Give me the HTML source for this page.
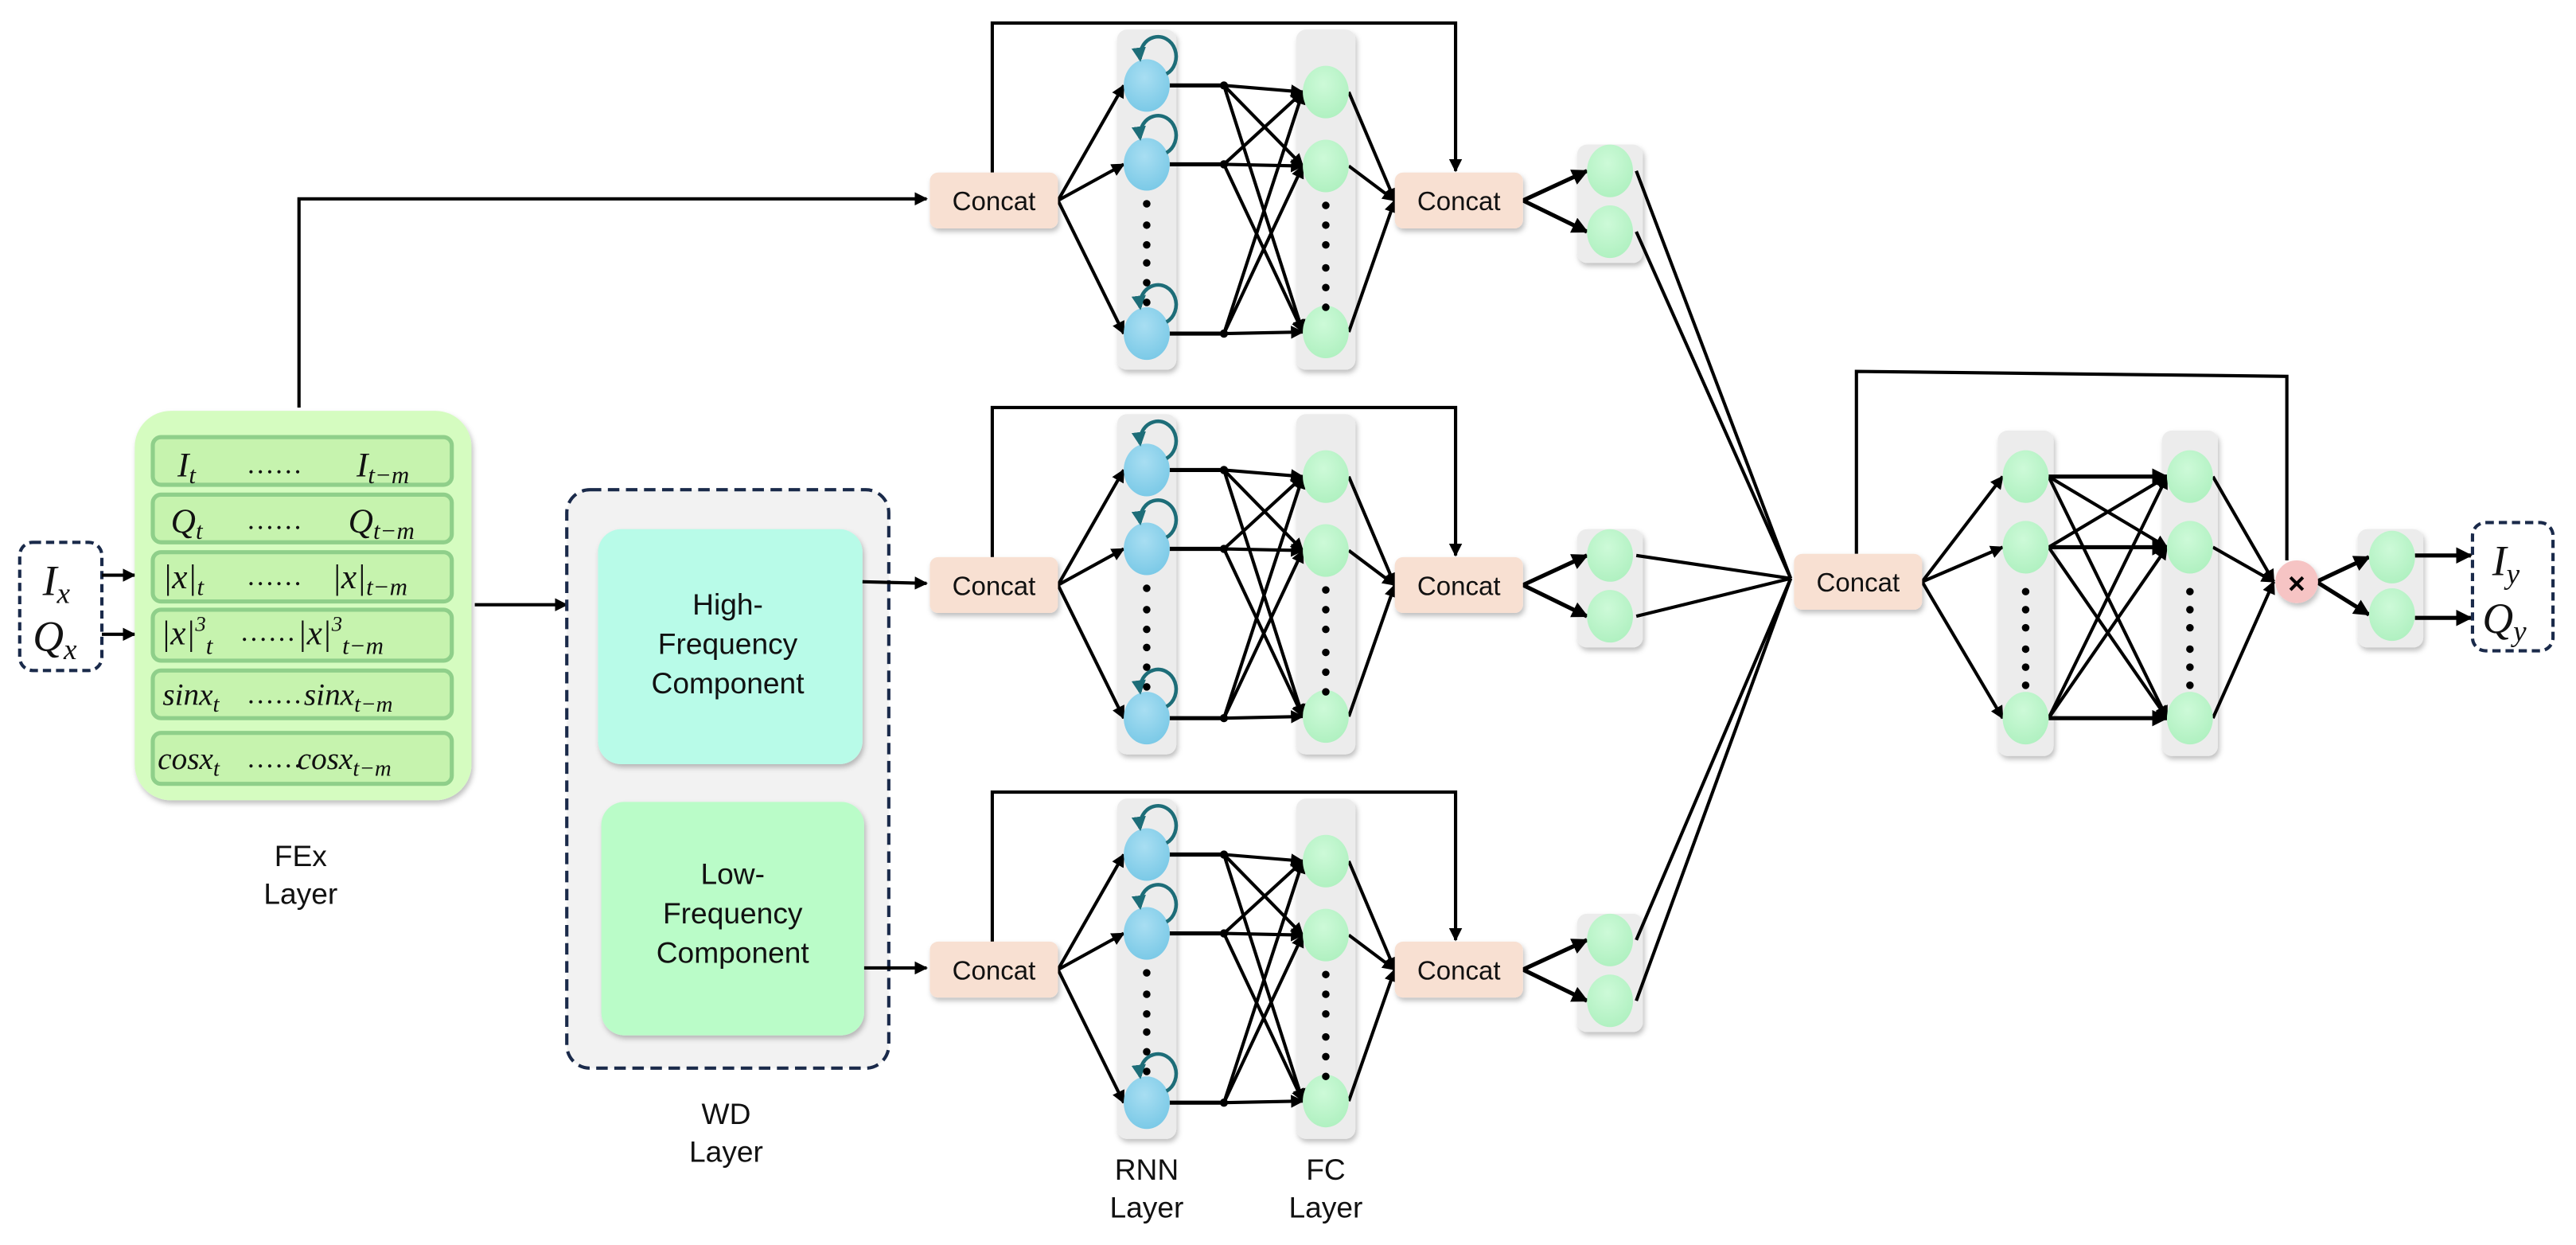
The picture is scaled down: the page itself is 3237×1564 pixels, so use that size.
<!DOCTYPE html>
<html><head><meta charset="utf-8"><style>
html,body{margin:0;padding:0;background:#fff;}
svg{display:block;}
.lbl{font-family:"Liberation Sans Narrow","Liberation Sans",sans-serif;fill:#111;}
.m{font-family:"Liberation Serif",serif;font-style:italic;fill:#111;}
</style></head><body>
<svg id="s" width="3237" height="1564" viewBox="0 0 1568 757.6" xmlns="http://www.w3.org/2000/svg">
<defs>
<marker id="a" viewBox="0 0 10 10" refX="9" refY="5" markerWidth="4" markerHeight="4" orient="auto"><path d="M0,0 L10,5 L0,10 z" fill="#000"/></marker>
<marker id="t" viewBox="0 0 10 10" refX="8" refY="5" markerWidth="4" markerHeight="4" orient="auto"><path d="M0,0 L10,5 L0,10 z" fill="#1d6d78"/></marker>
<radialGradient id="gb" cx="45%" cy="35%" r="70%"><stop offset="0" stop-color="#a8def2"/><stop offset="1" stop-color="#78c8e6"/></radialGradient>
<radialGradient id="gg" cx="45%" cy="35%" r="70%"><stop offset="0" stop-color="#cdfad8"/><stop offset="1" stop-color="#aef0bf"/></radialGradient>
<filter id="sh" x="-20%" y="-20%" width="140%" height="140%"><feDropShadow dx="1" dy="2" stdDeviation="1.5" flood-color="#000" flood-opacity="0.25"/></filter>
</defs>

<!-- input box -->
<rect x="12" y="330" width="50" height="78" rx="8" fill="#fff" stroke="#1a2a4a" stroke-width="2" stroke-dasharray="5,3"/>
<text class="m" x="26" y="362" font-size="26">I<tspan font-size="18" dy="5">x</tspan></text>
<text class="m" x="20" y="396" font-size="26">Q<tspan font-size="18" dy="5">x</tspan></text>
<line x1="62" y1="350" x2="82" y2="350" stroke="#000" stroke-width="2" marker-end="url(#a)"/>
<line x1="62" y1="386" x2="82" y2="386" stroke="#000" stroke-width="2" marker-end="url(#a)"/>

<!-- FEx -->
<rect x="82" y="250" width="205" height="237" rx="22" fill="#d5fcc0" filter="url(#sh)"/>
<g fill="#c6f3ae" stroke="#8fcf8a" stroke-width="2.5">
<rect x="93" y="266" width="182" height="29" rx="5"/>
<rect x="93" y="301" width="182" height="29" rx="5"/>
<rect x="93" y="336" width="182" height="30" rx="5"/>
<rect x="93" y="371" width="182" height="31" rx="5"/>
<rect x="93" y="408" width="182" height="29" rx="5"/>
<rect x="93" y="446" width="182" height="31" rx="5"/>
</g>
<g class="m" font-size="21">
<text x="108" y="290">I<tspan font-size="15" dy="4">t</tspan></text>
<text x="150" y="288" font-style="normal" font-size="17">……</text>
<text x="217" y="290">I<tspan font-size="15" dy="4">t−m</tspan></text>
<text x="104" y="324">Q<tspan font-size="15" dy="4">t</tspan></text>
<text x="150" y="322" font-style="normal" font-size="17">……</text>
<text x="212" y="324">Q<tspan font-size="15" dy="4">t−m</tspan></text>
<text x="99" y="358">|x|<tspan font-size="15" dy="4">t</tspan></text>
<text x="150" y="356" font-style="normal" font-size="17">……</text>
<text x="202" y="358">|x|<tspan font-size="15" dy="4">t−m</tspan></text>
<text x="98" y="392">|x|<tspan font-size="13" dy="-8">3</tspan><tspan font-size="15" dy="14">t</tspan></text>
<text x="146" y="390" font-style="normal" font-size="17">……</text>
<text x="181" y="392">|x|<tspan font-size="13" dy="-8">3</tspan><tspan font-size="15" dy="14">t−m</tspan></text>
<text x="99" y="429" font-size="19">sinx<tspan font-size="14" dy="4">t</tspan></text>
<text x="150" y="428" font-style="normal" font-size="17">……</text>
<text x="185" y="429" font-size="19">sinx<tspan font-size="14" dy="4">t−m</tspan></text>
<text x="96" y="468" font-size="19">cosx<tspan font-size="14" dy="4">t</tspan></text>
<text x="150" y="467" font-style="normal" font-size="17">……</text>
<text x="181" y="468" font-size="19">cosx<tspan font-size="14" dy="4">t−m</tspan></text>
</g>
<text class="lbl" x="183" y="527" font-size="18" text-anchor="middle">FEx</text>
<text class="lbl" x="183" y="550" font-size="18" text-anchor="middle">Layer</text>

<!-- FEx to top concat -->
<polyline points="182,248 182,121 564,121" fill="none" stroke="#000" stroke-width="2" marker-end="url(#a)"/>
<line x1="289" y1="368" x2="345" y2="368" stroke="#000" stroke-width="2" marker-end="url(#a)"/>

<!-- WD -->
<rect x="345" y="298" width="196" height="352" rx="14" fill="#f2f2f2" stroke="#1a2a4a" stroke-width="2" stroke-dasharray="7,4"/>
<rect x="364" y="322" width="161" height="143" rx="14" fill="#b8fbe8" filter="url(#sh)"/>
<rect x="366" y="488" width="160" height="142" rx="14" fill="#bafcc8" filter="url(#sh)"/>
<g class="lbl" font-size="18" text-anchor="middle">
<text x="443" y="374">High-</text><text x="443" y="398">Frequency</text><text x="443" y="422">Component</text>
<text x="446" y="538">Low-</text><text x="446" y="562">Frequency</text><text x="446" y="586">Component</text>
<text x="442" y="684">WD</text><text x="442" y="707">Layer</text>
<text x="698" y="718">RNN</text><text x="698" y="741">Layer</text>
<text x="807" y="718">FC</text><text x="807" y="741">Layer</text>
</g>
<line x1="525" y1="354" x2="564" y2="355" stroke="#000" stroke-width="2" marker-end="url(#a)"/>
<line x1="526" y1="589" x2="564" y2="589" stroke="#000" stroke-width="2" marker-end="url(#a)"/>

<g id="net"></g>

<!-- concat boxes -->
<g filter="url(#sh)" fill="#f8e0d2">
<rect x="566" y="105" width="78" height="34" rx="5"/><rect x="849" y="105" width="78" height="34" rx="5"/>
<rect x="566" y="339" width="78" height="34" rx="5"/><rect x="849" y="339" width="78" height="34" rx="5"/>
<rect x="566" y="573" width="78" height="34" rx="5"/><rect x="849" y="573" width="78" height="34" rx="5"/>
<rect x="1092" y="337" width="78" height="34" rx="5"/>
</g>
<g class="lbl" font-size="16" text-anchor="middle">
<text x="605" y="128">Concat</text><text x="888" y="128">Concat</text>
<text x="605" y="362">Concat</text><text x="888" y="362">Concat</text>
<text x="605" y="596">Concat</text><text x="888" y="596">Concat</text>
<text x="1131" y="360">Concat</text>
</g>

<!-- output -->
<circle cx="1398" cy="354" r="13" fill="#f6c4c4" filter="url(#sh)"/>
<text x="1398" y="361" font-family="Liberation Sans,sans-serif" font-weight="bold" font-size="18" text-anchor="middle">×</text>
<rect x="1505" y="318" width="49" height="78" rx="8" fill="#fff" stroke="#1a2a4a" stroke-width="2" stroke-dasharray="5,3"/>
<text class="m" x="1517" y="350" font-size="26">I<tspan font-size="18" dy="5">y</tspan></text>
<text class="m" x="1511" y="385" font-size="26">Q<tspan font-size="18" dy="5">y</tspan></text>
</svg>
<script>
var NS="http://www.w3.org/2000/svg",g=document.getElementById("net");
function el(n,a){var e=document.createElementNS(NS,n);for(var k in a)e.setAttribute(k,a[k]);g.appendChild(e);return e;}
function ln(x1,y1,x2,y2,arr,w){el("line",{x1:x1,y1:y1,x2:x2,y2:y2,stroke:"#000","stroke-width":w||2,"marker-end":arr?"url(#a)":""});}
function bar(x,y,w,h){el("rect",{x:x,y:y,width:w,height:h,rx:6,fill:"#ececec",filter:"url(#sh)"});}
function node(x,y,f){el("ellipse",{cx:x,cy:y,rx:14,ry:16,fill:f});}
function dots(x,ys){ys.forEach(function(y){el("circle",{cx:x,cy:y,r:2.3,fill:"#000"});});}
[0,234,468].forEach(function(d){
  bar(680,18+d,36,207);bar(789,18+d,36,207);bar(960,88+d,40,72);
  var R=[52+d,100+d,203+d],F=[56+d,101+d,202+d],S=[104+d,141+d];
  var pts="604,"+(105+d)+" 604,"+(14+d)+" 886,"+(14+d)+" 886,"+(104+d);
  el("polyline",{points:pts,fill:"none",stroke:"#000","stroke-width":2,"marker-end":"url(#a)"});
  R.forEach(function(y){ln(644,122+d,684,y,1);});
  R.forEach(function(y){ln(712,y,745,y,0,2.5);el("circle",{cx:745,cy:y,r:2.5,fill:"#000"});F.forEach(function(f){ln(745,y,793,f,1);});});
  F.forEach(function(f){ln(821,f,849,122+d,1);});
  S.forEach(function(s){ln(927,122+d,966,s,1,2.5);ln(996,s,1090,352,0);});
  R.forEach(function(y){node(698,y,"url(#gb)");
    el("path",{d:"M710,"+(y-7)+" A11,12 0 1 0 694,"+(y-16),fill:"none",stroke:"#1d6d78","stroke-width":2.2,"marker-end":"url(#t)"});});
  F.forEach(function(f){node(807,f,"url(#gg)");});
  S.forEach(function(s){node(980,s,"url(#gg)");});
  dots(698,[124+d,137+d,149+d,160+d,172+d,184+d]);
  dots(807,[125+d,137+d,149+d,163+d,175+d,187+d]);
});
bar(1216,262,34,198);bar(1316,262,34,198);bar(1435,322,40,72);
el("polyline",{points:"1130,337 1130,226 1392,229 1392,341",fill:"none",stroke:"#000","stroke-width":2});
var L1=[290,333,437],L2=[290,333,437];
L1.forEach(function(y){ln(1170,354,1219,y,1);});
L1.forEach(function(y){L2.forEach(function(z){ln(1247,y,1319,z,1,y==z?2.5:2);});});
L2.forEach(function(z){ln(1347,z,1384,354,1);});
ln(1410,354,1442,339,1,2.5);ln(1410,354,1442,374,1,2.5);
ln(1470,338,1504,338,1,2.5);ln(1470,376,1504,376,1,2.5);
L1.forEach(function(y){node(1233,y,"url(#gg)");});
L2.forEach(function(y){node(1333,y,"url(#gg)");});
node(1456,339,"url(#gg)");node(1456,374,"url(#gg)");
dots(1233,[360,371,382,395,406,417]);dots(1333,[360,371,382,395,406,417]);
</script>
</body></html>
